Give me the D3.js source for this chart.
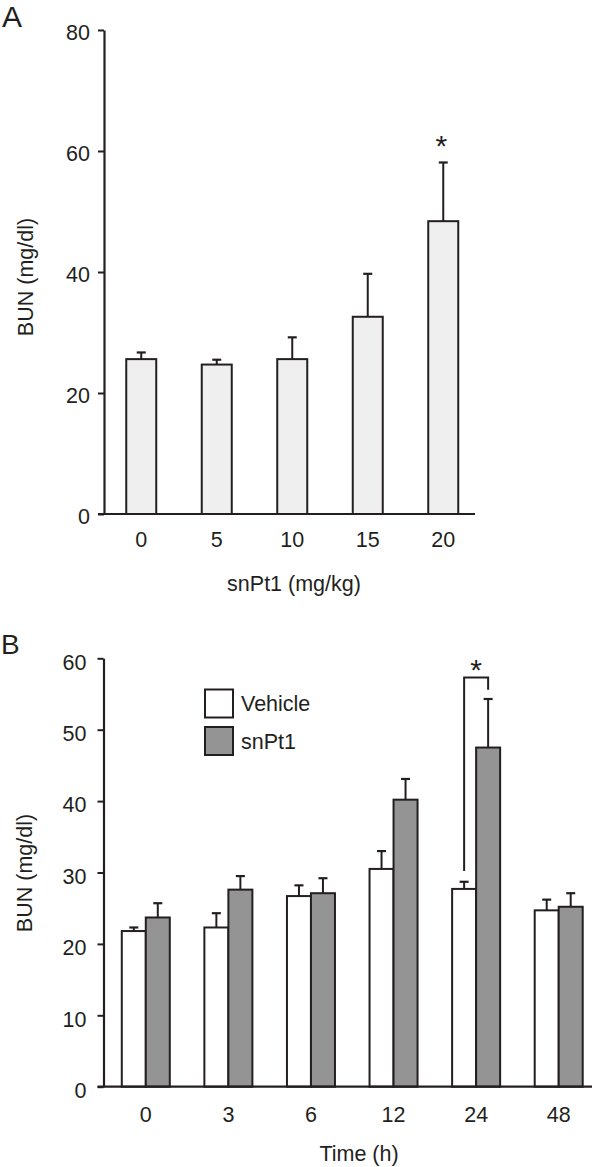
<!DOCTYPE html>
<html>
<head>
<meta charset="utf-8">
<script src="https://cdn.jsdelivr.net/npm/d3@7"></script>
<style>
  html, body { margin: 0; padding: 0; background: #fff; }
  svg { display: block; }
  text { font-family: "Liberation Sans", Arial, Helvetica, sans-serif; fill: #231f20; }
</style>
</head>
<body>
<svg id="chart" width="600" height="1167"></svg>
<script>
// ---------- Data ----------
// Panel A
const catsA = ["0", "5", "10", "15", "20"];
const meanA = [25.6, 24.7, 25.6, 32.6, 48.4];
const errA  = [1.1, 0.8, 3.6, 7.1, 9.7];
const yTicksA = [0, 20, 40, 60, 80];
const starA = "20";          // category marked significant
const starAValue = 62;       // data-level of asterisk

// Panel B
const catsB = ["0", "3", "6", "12", "24", "48"];
const seriesB = ["Vehicle", "snPt1"];
const vehicleMean = [21.8, 22.3, 26.7, 30.5, 27.7, 24.7];
const vehicleErr  = [0.5, 2.0, 1.5, 2.5, 1.0, 1.5];
const snPt1Mean   = [23.7, 27.6, 27.1, 40.2, 47.5, 25.2];
const snPt1Err    = [2.0, 1.9, 2.1, 2.9, 6.8, 1.9];
const yTicksB = [0, 10, 20, 30, 40, 50, 60];
const starB = "24";
const bracketB = { low: 30.2, top: 57.3, right: 55.6 };
const starBValue = 59.4;

// ---------- Styles ----------
const INK = "#231f20";
const FILL_A = "#efefef";
const FILL_B = ["#ffffff", "#949494"];
const FS = 21.5;
const STAR = 30;

const svg = d3.select("#chart");

function drawErr(g, cx, yTop, yEnd) {
  g.append("line").attr("x1", cx).attr("x2", cx).attr("y1", yTop).attr("y2", yEnd)
    .attr("stroke", INK).attr("stroke-width", 2);
  g.append("line").attr("x1", cx - 4.5).attr("x2", cx + 4.5).attr("y1", yEnd).attr("y2", yEnd)
    .attr("stroke", INK).attr("stroke-width", 2.2);
}

// =============== Panel A ===============
{
  const x = d3.scaleBand().domain(catsA).range([103.5, 481]).paddingInner(0).paddingOuter(0);
  const y = d3.scaleLinear().domain([0, 80]).range([514, 30]);
  const bw = 30;
  const g = svg.append("g");

  catsA.forEach((c, i) => {
    const cx = x(c) + x.bandwidth() / 2;
    drawErr(g, cx, y(meanA[i]), y(meanA[i] + errA[i]));
    g.append("rect")
      .attr("x", cx - bw / 2).attr("y", y(meanA[i]))
      .attr("width", bw).attr("height", y(0) - y(meanA[i]))
      .attr("fill", FILL_A).attr("stroke", INK).attr("stroke-width", 2);
  });

  const ya = g.append("g").attr("transform", "translate(104,0)")
    .call(d3.axisLeft(y).tickValues(yTicksA).tickSize(6).tickSizeOuter(0).tickPadding(8));
  ya.selectAll("path.domain").attr("stroke", INK).attr("stroke-width", 2.2);
  ya.selectAll(".tick line").attr("stroke", INK).attr("stroke-width", 2);
  ya.selectAll(".tick text").attr("font-size", FS).attr("dy", "0.43em")
    .style("font-family", '"Liberation Sans", Arial, sans-serif').attr("fill", INK);

  const xa = g.append("g").attr("transform", `translate(0,${y(0)})`)
    .call(d3.axisBottom(x).tickSize(0).tickPadding(18));
  xa.select("path.domain").remove();
  xa.selectAll(".tick text").attr("font-size", FS)
    .style("font-family", '"Liberation Sans", Arial, sans-serif').attr("fill", INK);
  g.append("line").attr("x1", 98).attr("x2", 475).attr("y1", y(0)).attr("y2", y(0))
    .attr("stroke", INK).attr("stroke-width", 2.2);

  g.append("text").attr("x", x(starA) + x.bandwidth() / 2 - 2).attr("y", y(starAValue) + 0.575 * STAR)
    .attr("text-anchor", "middle").attr("font-size", STAR).text("*");

  g.append("text").attr("x", 294).attr("y", 591).attr("text-anchor", "middle")
    .attr("font-size", FS).text("snPt1 (mg/kg)");
  g.append("text").attr("transform", "translate(33,277) rotate(-90)")
    .attr("text-anchor", "middle").attr("font-size", FS).text("BUN (mg/dl)");
  g.append("text").attr("x", 2).attr("y", 27).attr("font-size", 30).text("A");
}

// =============== Panel B ===============
{
  const x0 = d3.scaleBand().domain(catsB).range([104.5, 600]).paddingInner(0).paddingOuter(0);
  const x1 = d3.scaleBand().domain(seriesB).range([-24, 24]);
  const y = d3.scaleLinear().domain([0, 60]).range([1086.7, 658.3]);
  const means = [vehicleMean, snPt1Mean];
  const errs = [vehicleErr, snPt1Err];
  const g = svg.append("g");

  catsB.forEach((c, i) => {
    const cx = x0(c) + x0.bandwidth() / 2;
    seriesB.forEach((s, j) => {
      const bx = cx + x1(s);
      const bc = bx + x1.bandwidth() / 2;
      drawErr(g, bc, y(means[j][i]), y(means[j][i] + errs[j][i]));
      g.append("rect")
        .attr("x", bx).attr("y", y(means[j][i]))
        .attr("width", x1.bandwidth()).attr("height", y(0) - y(means[j][i]))
        .attr("fill", FILL_B[j]).attr("stroke", INK).attr("stroke-width", 2);
    });
  });

  const ya = g.append("g").attr("transform", "translate(103.5,0)")
    .call(d3.axisLeft(y).tickValues(yTicksB).tickSize(6).tickSizeOuter(0).tickPadding(11));
  ya.selectAll("path.domain").attr("stroke", INK).attr("stroke-width", 2.2);
  ya.selectAll(".tick line").attr("stroke", INK).attr("stroke-width", 2);
  ya.selectAll(".tick text").attr("font-size", FS).attr("dy", "0.5em")
    .style("font-family", '"Liberation Sans", Arial, sans-serif').attr("fill", INK);

  const xa = g.append("g").attr("transform", `translate(0,${y(0)})`)
    .call(d3.axisBottom(x0).tickSize(0).tickPadding(20));
  xa.select("path.domain").remove();
  xa.selectAll(".tick text").attr("font-size", FS)
    .style("font-family", '"Liberation Sans", Arial, sans-serif').attr("fill", INK);
  g.append("line").attr("x1", 97.5).attr("x2", 592).attr("y1", y(0)).attr("y2", y(0))
    .attr("stroke", INK).attr("stroke-width", 2.2);

  const cS = x0(starB) + x0.bandwidth() / 2;
  const xl = cS + x1("Vehicle") + x1.bandwidth() / 2;
  const xr = cS + x1("snPt1") + x1.bandwidth() / 2;
  g.append("path")
    .attr("d", `M${xl},${y(bracketB.low)} V${y(bracketB.top)} H${xr} V${y(bracketB.right)}`)
    .attr("fill", "none").attr("stroke", INK).attr("stroke-width", 2);
  g.append("text").attr("x", (xl + xr) / 2).attr("y", y(starBValue) + 0.575 * STAR)
    .attr("text-anchor", "middle").attr("font-size", STAR).text("*");

  const leg = g.append("g").attr("transform", "translate(205,689.5)");
  seriesB.forEach((s, j) => {
    leg.append("rect").attr("x", 0).attr("y", j * 37.5).attr("width", 28).attr("height", 28)
      .attr("fill", FILL_B[j]).attr("stroke", INK).attr("stroke-width", 2);
    leg.append("text").attr("x", 36).attr("y", j * 37.5 + 14 + 7.5)
      .attr("font-size", FS).text(s);
  });

  g.append("text").attr("x", 359).attr("y", 1161).attr("text-anchor", "middle")
    .attr("font-size", FS).text("Time (h)");
  g.append("text").attr("transform", "translate(32,873) rotate(-90)")
    .attr("text-anchor", "middle").attr("font-size", FS).text("BUN (mg/dl)");
  g.append("text").attr("x", 1).attr("y", 654).attr("font-size", 28).text("B");
}
</script>
</body>
</html>
